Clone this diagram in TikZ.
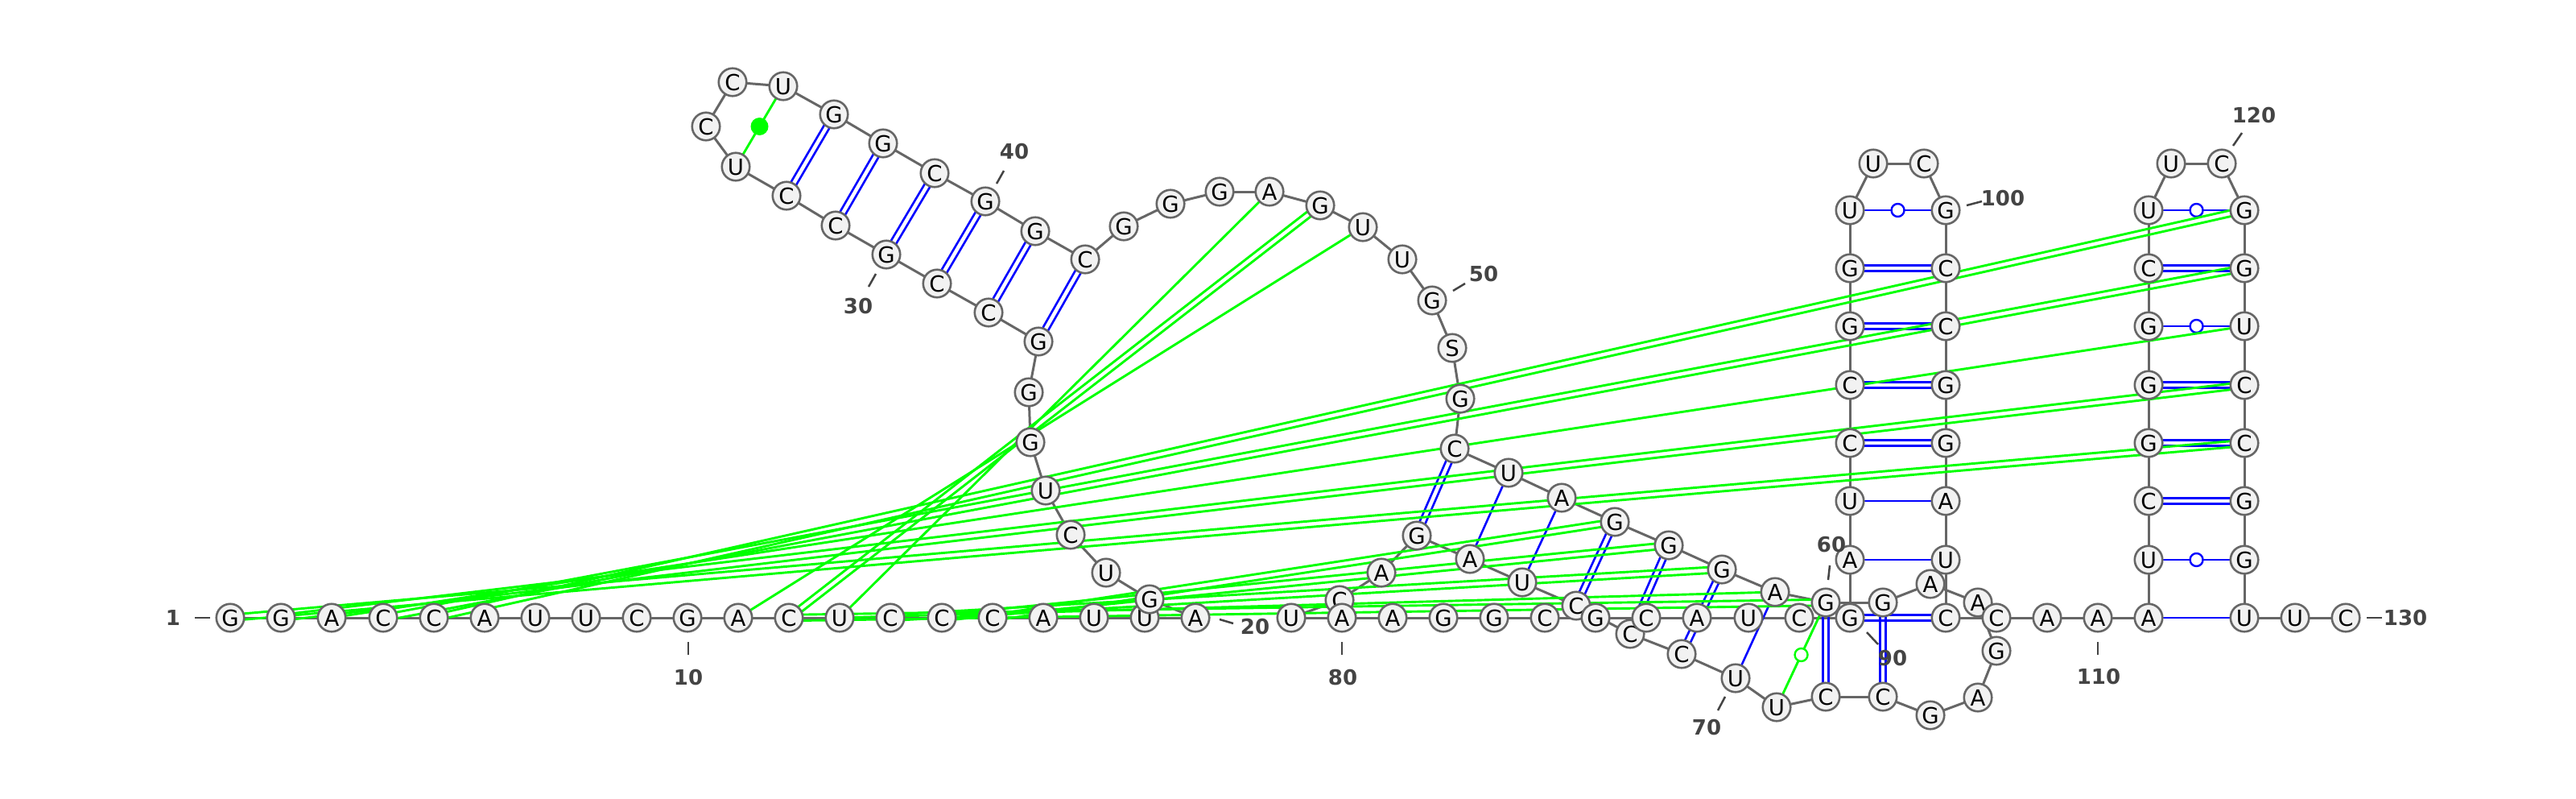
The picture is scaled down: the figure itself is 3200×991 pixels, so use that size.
\documentclass[tikz,border=0pt]{standalone}
\usepackage{fontspec}
\setmainfont{DejaVu Sans}
\usetikzlibrary{calc}
\pgfdeclarelayer{bblayer}
\pgfdeclarelayer{pairlayer}
\pgfsetlayers{bblayer,pairlayer,main}
\definecolor{bbgray}{RGB}{102,102,102}
\definecolor{nfill}{RGB}{242,242,242}
\definecolor{pblue}{RGB}{0,0,255}
\definecolor{pgreen}{RGB}{0,255,0}
\definecolor{lblc}{RGB}{68,68,68}
\newcommand\dblpair[3]{%
  \draw[#1] ($(#2.center)!3.7pt!90:(#3.center)$) -- ($(#3.center)!3.7pt!-90:(#2.center)$);
  \draw[#1] ($(#2.center)!3.7pt!-90:(#3.center)$) -- ($(#3.center)!3.7pt!90:(#2.center)$);}
\begin{document}
\begin{tikzpicture}[x=1pt,y=-1pt,
  nt/.style={circle,draw=bbgray,fill=nfill,line width=2.6pt,minimum size=34.5pt,inner sep=0pt,
    font=\fontsize{27.5}{27.5}\selectfont,text height=20pt,text depth=0pt},
  bbline/.style={draw=bbgray,line width=3pt},
  bp/.style={draw=pblue,line width=2.6pt},
  gp/.style={draw=pgreen,line width=2.9pt},
  lab/.style={text=lblc,font=\bfseries\fontsize{26}{26}\selectfont,inner sep=0pt},
  tick/.style={draw=lblc,line width=2.5pt}]
\useasboundingbox (0,0) rectangle (3200,991);
% nucleotides
\foreach \i/\x/\y/\b in {
1/286/767/G,2/349/767/G,3/412/767/A,4/476/767/C,5/539/767/C,6/602/767/A,7/665/767/U,8/728/767/U,9/791/767/C,10/854/767/G,
11/917/767/A,12/980/767/C,13/1043/767/U,14/1106/767/C,15/1170/767/C,16/1233/767/C,17/1296/767/A,18/1359/767/U,19/1422/767/U,20/1485/767/A,
21/1428/744/G,22/1374/711/U,23/1330/664/C,24/1299/609/U,25/1280/549/G,26/1278/487/G,27/1290/424/G,28/1228/388/C,29/1164/352/C,30/1101/316/G,
31/1038/280/C,32/977/243/C,33/914/207/U,34/877/157/C,35/910/102/C,36/973/107/U,37/1036/142/G,38/1097/178/G,39/1161/215/C,40/1224/250/G,
41/1286/287/G,42/1348/322/C,43/1396/281/G,44/1454/253/G,45/1515/238/G,46/1577/238/A,47/1640/255/G,48/1693/282/U,49/1742/322/U,50/1779/373/G,
51/1804/432/S,52/1814/495/G,53/1807/557/C,54/1874/587/U,55/1940/618/A,56/2006/648/G,57/2073/677/G,58/2139/707/G,59/2205/735/A,60/2268/748/G,
61/2339/748/G,63/2457/748/A,64/2480/808/G,65/2457/866/A,66/2398/888/G,67/2339/865/C,68/2268/865/C,69/2207/878/U,70/2156/842/U,
71/2089/812/C,72/2025/787/C,73/1958/752/C,74/1891/723/U,75/1826/694/A,76/1760/665/G,77/1716/711/A,78/1664/745/C,79/1604/767/U,80/1667/767/A,
81/1730/767/A,82/1793/767/G,83/1856/767/G,84/1919/767/C,85/1982/767/G,86/2045/767/C,87/2108/767/A,88/2172/767/U,89/2235/767/C,90/2298/767/G,
91/2298/695/A,92/2298/622/U,93/2298/550/C,94/2298/478/C,95/2298/405/G,96/2298/333/G,97/2298/261/U,98/2327/203/U,99/2390/203/C,100/2417/261/G,
101/2417/333/C,102/2417/405/C,103/2417/478/G,104/2417/550/G,105/2417/622/A,106/2417/695/U,107/2417/767/C,108/2480/767/C,109/2543/767/A,110/2606/767/A,
111/2669/767/A,112/2669/695/U,113/2669/622/C,114/2669/550/G,115/2669/478/G,116/2669/405/G,117/2669/333/C,118/2669/261/U,119/2697/203/U,120/2760/203/C,
121/2788/261/G,122/2788/333/G,123/2788/405/U,124/2788/478/C,125/2788/550/C,126/2788/622/G,127/2788/695/G,128/2788/767/U,129/2851/767/U,130/2914/767/C,
62/2398/725/A}
  \node[nt] (n\i) at (\x,\y) {\b};
% backbone
\begin{pgfonlayer}{bblayer}
\fill[white] (0,0) rectangle (3200,991);
\foreach \i [evaluate=\i as \j using {int(\i+1)}] in {1,...,19,21,22,...,129}
  \draw[bbline] (n\i.center) -- (n\j.center);
\draw[bbline] (n20.center) -- (n21.center);
\end{pgfonlayer}
% base pairs
\begin{pgfonlayer}{pairlayer}
\foreach \a/\b in {27/42,28/41,29/40,30/39,31/38,32/37,53/76,56/73,57/72,58/71,60/68,61/67,
  90/107,93/104,94/103,95/102,96/101,113/126,114/125,115/124,117/122}
  {\dblpair{bp}{n\a}{n\b}}
\foreach \a/\b in {54/75,55/74,59/70,91/106,92/105,111/128}
  \draw[bp] (n\a.center) -- (n\b.center);
\foreach \a/\b in {97/100,112/127,116/123,118/121}
  {\draw[bp] (n\a.center) -- (n\b.center);
   \draw[pblue,line width=2.4pt,fill=white] ($(n\a.center)!0.5!(n\b.center)$) circle[radius=8pt];}
\foreach \a/\b in {1/125,2/124,4/122,5/121,12/47,12/60,14/58,15/57,16/56}
  {\dblpair{gp}{n\a}{n\b}}
\foreach \a/\b in {3/123,11/48,13/46,13/59}
  \draw[gp] (n\a.center) -- (n\b.center);
\draw[gp] (n60.center) -- (n69.center);
\draw[pgreen,line width=2.4pt,fill=white] ($(n60.center)!0.5!(n69.center)$) circle[radius=8pt];
\draw[gp] (n33.center) -- (n36.center);
\fill[pgreen] ($(n33.center)!0.5!(n36.center)$) circle[radius=11pt];
\end{pgfonlayer}
% numbering
\node[lab] (l1) at (215,767) {1};
\draw[tick] (242,767) -- (261,767);
\node[lab] (l10) at (855,841) {10};
\draw[tick] (855,797) -- (855,813);
\node[lab] (l20) at (1559,778) {20};
\draw[tick] (1515,769) -- (1532,774);
\node[lab] (l30) at (1066,380) {30};
\draw[tick] (1088,340) -- (1079,356);
\node[lab] (l40) at (1260,188) {40};
\draw[tick] (1247,212) -- (1238,228);
\node[lab] (l50) at (1843,340) {50};
\draw[tick] (1805,361) -- (1820,352);
\node[lab] (l60) at (2275,676) {60};
\draw[tick] (2273,702) -- (2271,720);
\node[lab] (l70) at (2120,903) {70};
\draw[tick] (2143,865) -- (2134,882);
\node[lab] (l80) at (1668,841) {80};
\draw[tick] (1667,797) -- (1667,813);
\node[lab] (l90) at (2351,817) {90};
\draw[tick] (2319,785) -- (2333,800);
\node[lab] (l100) at (2488,246) {100};
\draw[tick] (2443,255) -- (2462,250);
\node[lab] (l110) at (2607,840) {110};
\draw[tick] (2606,797) -- (2606,813);
\node[lab] (l120) at (2800,143) {120};
\draw[tick] (2785,165) -- (2774,181);
\node[lab] (l130) at (2988,767) {130};
\draw[tick] (2940,767) -- (2959,767);
\end{tikzpicture}
\end{document}
